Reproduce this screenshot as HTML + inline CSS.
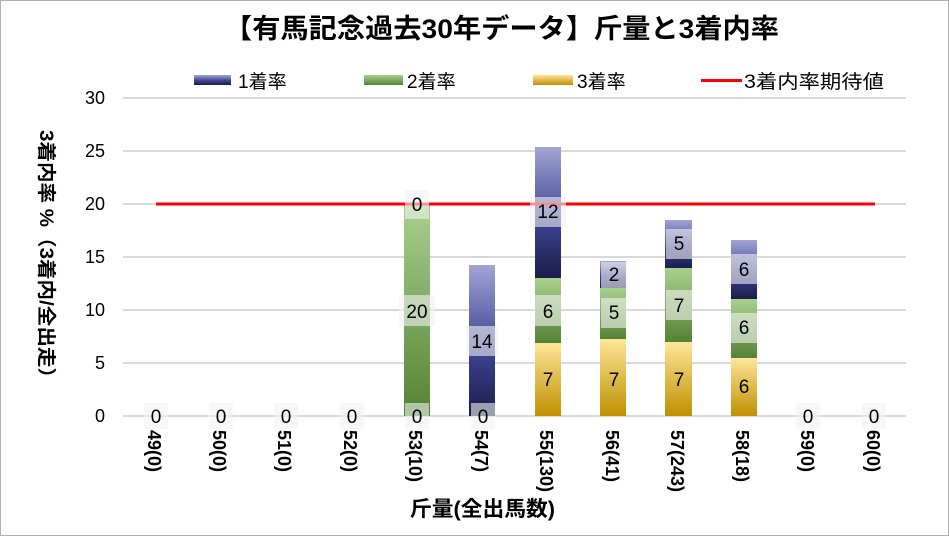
<!DOCTYPE html>
<html><head><meta charset="utf-8"><style>
html,body{margin:0;padding:0;background:#fff}
svg{display:block;font-family:"Liberation Sans","Noto Sans CJK JP",sans-serif}
</style></head><body>
<svg width="949" height="536" viewBox="0 0 949 536" xmlns="http://www.w3.org/2000/svg">
<defs>
<linearGradient id="gb" x1="0" y1="1" x2="0" y2="0"><stop offset="0" stop-color="#1c1c4a"/><stop offset="0.45" stop-color="#3f4596"/><stop offset="1" stop-color="#a1a5d4"/></linearGradient>
<linearGradient id="gg" x1="0" y1="1" x2="0" y2="0"><stop offset="0" stop-color="#548235"/><stop offset="1" stop-color="#a9d18e"/></linearGradient>
<linearGradient id="gy" x1="0" y1="1" x2="0" y2="0"><stop offset="0" stop-color="#bf9000"/><stop offset="1" stop-color="#ffe699"/></linearGradient>
</defs>
<rect x="0.5" y="0.5" width="948" height="535" fill="#fff" stroke="#b0b0b0"/>
<text x="224" y="38" font-size="27" font-weight="bold" textLength="555" lengthAdjust="spacingAndGlyphs">【有馬記念過去30年データ】斤量と3着内率</text>
<g font-size="19">
<rect x="194" y="75" width="37" height="10" fill="url(#gb)"/><text x="238" y="88">1着率</text>
<rect x="364" y="75" width="39" height="10" fill="url(#gg)"/><text x="407" y="88">2着率</text>
<rect x="533" y="75" width="40" height="10" fill="url(#gy)"/><text x="577" y="88">3着率</text>
<rect x="701" y="79" width="41" height="3" fill="#ff0000"/><text x="744" y="88" textLength="140" lengthAdjust="spacingAndGlyphs">3着内率期待値</text>
</g>
<g stroke="#d9d9d9" stroke-width="2">
<line x1="123" y1="98" x2="906" y2="98"/><line x1="123" y1="151" x2="906" y2="151"/>
<line x1="123" y1="204" x2="906" y2="204"/><line x1="123" y1="257" x2="906" y2="257"/>
<line x1="123" y1="310" x2="906" y2="310"/><line x1="123" y1="363" x2="906" y2="363"/>
<line x1="123" y1="416" x2="906" y2="416"/>
</g>
<g font-size="18" text-anchor="end">
<text x="105" y="104">30</text><text x="105" y="157">25</text><text x="105" y="210">20</text>
<text x="105" y="263">15</text><text x="105" y="316">10</text><text x="105" y="369">5</text><text x="105" y="422">0</text>
</g>
<text transform="translate(40,130) rotate(90)" font-size="19" font-weight="bold" textLength="258" lengthAdjust="spacingAndGlyphs">3着内率 %（3着内/全出走）</text>
<!-- bars -->
<rect x="404" y="204" width="26" height="212" fill="url(#gg)"/>
<rect x="469" y="265" width="26" height="151" fill="url(#gb)"/>
<rect x="535" y="343" width="26" height="73" fill="url(#gy)"/>
<rect x="535" y="278" width="26" height="65" fill="url(#gg)"/>
<rect x="535" y="147" width="26" height="131" fill="url(#gb)"/>
<rect x="600" y="339" width="26" height="77" fill="url(#gy)"/>
<rect x="600" y="288" width="26" height="51" fill="url(#gg)"/>
<rect x="600" y="261" width="26" height="27" fill="url(#gb)"/>
<rect x="665" y="342" width="27" height="74" fill="url(#gy)"/>
<rect x="665" y="268" width="27" height="74" fill="url(#gg)"/>
<rect x="665" y="220" width="27" height="48" fill="url(#gb)"/>
<rect x="731" y="358" width="26" height="58" fill="url(#gy)"/>
<rect x="731" y="299" width="26" height="59" fill="url(#gg)"/>
<rect x="731" y="240" width="26" height="59" fill="url(#gb)"/>
<line x1="156" y1="204" x2="875" y2="204" stroke="#ff0000" stroke-width="3"/>
<!-- data labels -->
<g fill="#f2f2f2" fill-opacity="0.6">
<rect x="144" y="403" width="24" height="26"/><rect x="209" y="403" width="24" height="26"/>
<rect x="274" y="403" width="24" height="26"/><rect x="340" y="403" width="24" height="26"/>
<rect x="405" y="403" width="24" height="26"/><rect x="471" y="403" width="24" height="26"/>
<rect x="796" y="403" width="24" height="26"/><rect x="862" y="403" width="24" height="26"/>
<rect x="405" y="190" width="24" height="29"/><rect x="399" y="295" width="36" height="31"/>
<rect x="466" y="326" width="32" height="30"/><rect x="530" y="197" width="36" height="30"/>
<rect x="535" y="295" width="26" height="31"/><rect x="601" y="298" width="26" height="30"/>
<rect x="601" y="262" width="26" height="26"/><rect x="666" y="290" width="26" height="30"/>
<rect x="666" y="229" width="26" height="30"/><rect x="731" y="313" width="26" height="30"/>
<rect x="731" y="254" width="26" height="30"/>
</g>
<g font-size="19" text-anchor="middle">
<text x="156" y="423">0</text><text x="221" y="423">0</text><text x="286" y="423">0</text><text x="352" y="423">0</text>
<text x="417" y="423">0</text><text x="483" y="423">0</text><text x="808" y="423">0</text><text x="874" y="423">0</text>
<text x="417" y="211">0</text><text x="417" y="318">20</text><text x="482" y="348">14</text>
<text x="548" y="218">12</text><text x="548" y="318">6</text><text x="548" y="386">7</text>
<text x="614" y="281">2</text><text x="614" y="319">5</text><text x="614" y="386">7</text>
<text x="679" y="250">5</text><text x="679" y="312">7</text><text x="679" y="386">7</text>
<text x="744" y="276">6</text><text x="744" y="334">6</text><text x="744" y="393">6</text>
</g>
<g font-size="18" font-weight="bold">
<text transform="translate(148,430) rotate(90)">49(0)</text>
<text transform="translate(213,430) rotate(90)">50(0)</text>
<text transform="translate(278,430) rotate(90)">51(0)</text>
<text transform="translate(344,430) rotate(90)">52(0)</text>
<text transform="translate(409,430) rotate(90)">53(10)</text>
<text transform="translate(475,430) rotate(90)">54(7)</text>
<text transform="translate(540,430) rotate(90)">55(130)</text>
<text transform="translate(606,430) rotate(90)">56(41)</text>
<text transform="translate(671,430) rotate(90)">57(243)</text>
<text transform="translate(736,430) rotate(90)">58(18)</text>
<text transform="translate(801,430) rotate(90)">59(0)</text>
<text transform="translate(867,430) rotate(90)">60(0)</text>
</g>
<text x="410" y="516" font-size="21" font-weight="bold" textLength="145" lengthAdjust="spacingAndGlyphs">斤量(全出馬数)</text>
</svg>
</body></html>
